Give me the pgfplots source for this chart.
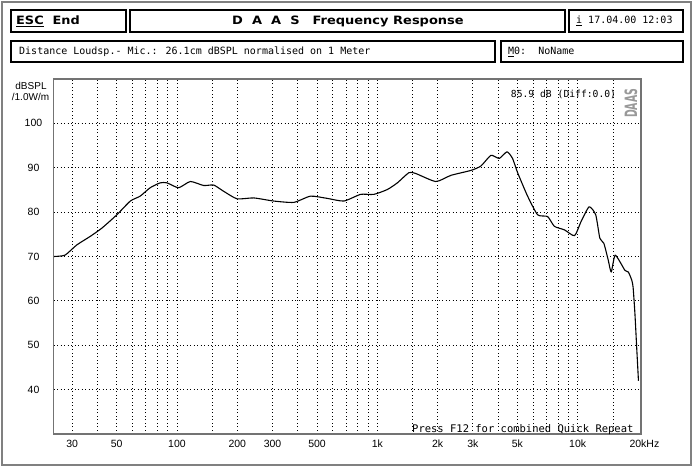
\documentclass[border=0pt]{standalone}
\usepackage{fontspec}
\setmainfont{Liberation Sans}
\newfontfamily\mono{DejaVu Sans Mono}
\newfontfamily\dv{DejaVu Sans}
\usepackage{pgfplots}
\pgfplotsset{compat=1.18}

\pgfplotstableread{
f      db
24.2   70.0
27.6   70.3
31.6   72.6
36.8   74.5
42.2   76.4
50.1   79.4
58.5   82.5
65.5   83.6
73.5   85.5
82.5   86.6
89.1   86.6
101.9  85.5
116.6  86.9
135.9  86.0
152.5  86.1
171    84.7
199.5  83.0
241.6  83.2
304    82.5
383    82.2
464    83.6
562    83.1
681    82.5
825    84.0
961    84.0
1122   85.1
1259   86.6
1438   88.9
1556   88.7
1959   86.9
2333   88.3
2931   89.4
3289   90.4
3690   92.8
4060   92.1
4437   93.6
4729   92.1
5012   88.9
5623   83.6
6310   79.4
7079   79.0
7650   76.8
8590   76.0
9645   74.7
10400  77.9
11400  81.2
12300  79.4
12900  74.1
13500  73.0
14200  69.2
14700  66.5
15400  70.3
17200  66.9
17900  66.5
18600  64.7
18900  63.1
19300  57.2
19700  49.5
20100  42.0
}\response

\begin{document}
\begin{tikzpicture}
\begin{scope}[x=1pt,y=1pt]
\useasboundingbox (0,0) rectangle (693,467);
\fill[white] (0,0) rectangle (693,467);
% outer frame
\draw[black!50, line width=1.5pt] (2,2) rectangle (691,465);
% header boxes
\begin{scope}[line width=2pt]
  \draw (11,434.5) rectangle (125.5,457);
  \draw (130,434.5) rectangle (565,457);
  \draw (569,434.5) rectangle (683,457);
  \draw (11,404.5) rectangle (494.5,426);
  \draw (500.5,404.5) rectangle (683,426);
\end{scope}
\node[anchor=west, inner sep=0, font=\dv\bfseries\fontsize{11.5}{11}\selectfont] at (16,446) {\scalebox{1.12}[1]{\underline{ESC}\ \ End}};
\node[inner sep=0, font=\dv\bfseries\fontsize{11.5}{11}\selectfont] at (348,446) {\scalebox{1.13}[1]{D\ \ A\ \ A\ \ S\quad Frequency Response}};
\node[anchor=west, inner sep=0, font=\mono\fontsize{10}{10}\selectfont] at (576,446) {\underline{i} 17.04.00 12:03};
\node[anchor=west, inner sep=0, font=\mono\fontsize{10}{10}\selectfont] at (19,415) {Distance Loudsp.- Mic.: 26.1cm dBSPL normalised on 1 Meter};
\node[anchor=west, inner sep=0, font=\mono\fontsize{10}{10}\selectfont] at (508,415) {\underline{M}0:\ \ NoName};
\end{scope}

\begin{axis}[
    at={(53.5pt,33pt)}, anchor=south west,
    scale only axis,
    width=587.5pt, height=355pt,
    xmode=log,
    xmin=24.2, xmax=20700,
    ymin=30, ymax=110,
    xtick={30,50,100,200,300,500,1000,2000,3000,5000,10000,20000},
    xticklabels={30,50,100,200,300,500,1k,2k,3k,5k,10k,20k\rlap{Hz}},
    minor xtick={30,40,50,60,70,80,90,100,150,200,300,400,500,600,700,800,900,
                 1000,1500,2000,3000,4000,5000,6000,7000,8000,9000,10000,15000},
    ytick={40,50,60,70,80,90,100},
    xminorgrids, ymajorgrids,
    major tick length=0pt, minor tick length=0pt,
    major grid style={black, line width=0.9pt, dash pattern=on 0.9pt off 2.6pt},
    minor grid style={black, line width=0.9pt, dash pattern=on 0.9pt off 2.6pt},
    axis line style={black!55, line width=1.6pt},
    tick label style={font=\fontsize{10.5}{10}\selectfont},
    xticklabel style={anchor=center, yshift=-10pt},
    yticklabel style={anchor=center, xshift=-20pt},
    /pgf/number format/assume math mode=true,
    clip=true,
]
\addplot[black, line width=1.1pt, line join=round, smooth, tension=0.35] table[x=f, y=db] {\response};
\end{axis}

\begin{scope}[x=1pt,y=1pt]
% plot frame on top
\draw[black!55, line width=1.6pt] (53.5,33) rectangle (641,388);
\node[inner sep=0, font=\fontsize{10}{10}\selectfont] at (31,381) {dBSPL};
\node[inner sep=0, font=\fontsize{10}{10}\selectfont] at (30.5,370.5) {/1.0W/m};
\node[inner sep=0, font=\mono\fontsize{9.7}{10}\selectfont] at (563.5,373) {85.9 dB (Diff:0.0)};
\node[anchor=west, inner sep=0, font=\mono\fontsize{10.5}{10}\selectfont] at (412,37.5) {Press F12 for combined Quick Repeat};
\node[rotate=90, inner sep=0, text=black!40, font=\dv\bfseries\fontsize{17}{17}\selectfont] at (631,363.5) {\scalebox{0.55}[1]{DAAS}};
\end{scope}
\end{tikzpicture}
\end{document}
